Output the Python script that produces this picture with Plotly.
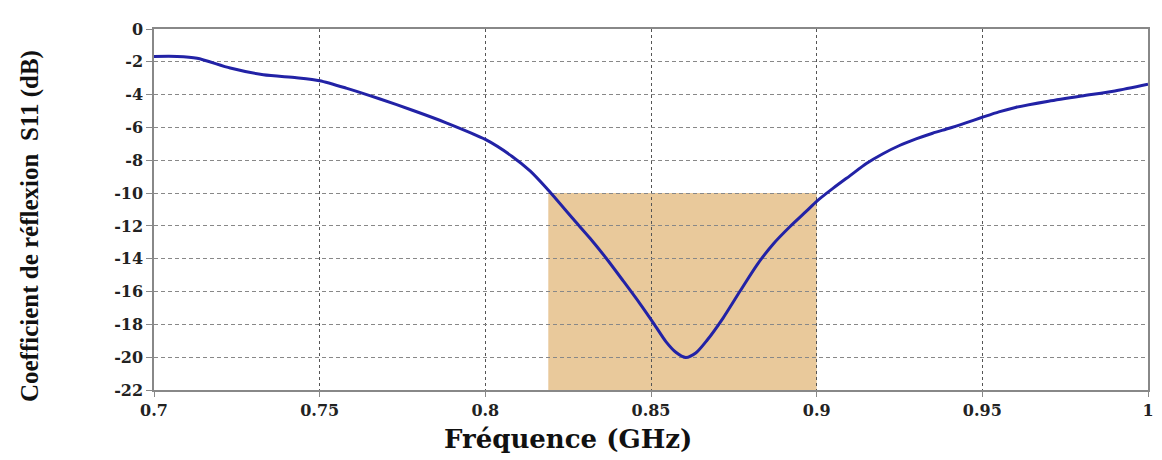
import plotly.graph_objects as go

# Data
freq_ghz = [0.700, 0.707, 0.713, 0.723, 0.733, 0.743, 0.750, 0.758, 0.768, 0.778,
            0.788, 0.800, 0.808, 0.8135, 0.8185, 0.8266, 0.8316, 0.8366, 0.8416, 0.8467,
            0.8510, 0.8545, 0.8575, 0.8605, 0.8635, 0.8668, 0.8718, 0.8768, 0.8819, 0.8869,
            0.8919, 0.8969, 0.900, 0.905, 0.910, 0.915, 0.920, 0.925, 0.930, 0.935,
            0.940, 0.945, 0.950, 0.955, 0.960, 0.970, 0.980, 0.990, 1.000]
s11_db = [-1.67, -1.67, -1.78, -2.38, -2.79, -2.97, -3.15, -3.60, -4.25, -4.95,
          -5.70, -6.73, -7.75, -8.65, -9.71, -11.6, -12.75, -14.0, -15.35, -16.75,
          -18.0, -19.05, -19.7, -20.02, -19.75, -19.0, -17.6, -16.0, -14.4, -13.1,
          -12.05, -11.1, -10.5, -9.7, -8.95, -8.2, -7.6, -7.1, -6.7, -6.35,
          -6.05, -5.72, -5.38, -5.05, -4.78, -4.40, -4.08, -3.78, -3.37]

band_start = 0.819
band_end = 0.9
threshold_db = -10
y_floor = -22

x_tick_vals = [0.7, 0.75, 0.8, 0.85, 0.9, 0.95, 1.0]
x_tick_text = ["0.7", "0.75", "0.8", "0.85", "0.9", "0.95", "1"]
y_tick_vals = [0, -2, -4, -6, -8, -10, -12, -14, -16, -18, -20, -22]
y_tick_text = ["0", "-2", "-4", "-6", "-8", "-10", "-12", "-14", "-16", "-18", "-20", "-22"]

fig = go.Figure()
fig.add_trace(go.Scatter(
    x=freq_ghz, y=s11_db, mode="lines",
    line=dict(color="#2222a6", width=3, shape="spline", smoothing=0.7),
    hoverinfo="x+y", showlegend=False,
))

fig.add_shape(type="rect", xref="x", yref="y",
              x0=band_start, x1=band_end, y0=y_floor, y1=threshold_db,
              fillcolor="rgb(233,201,155)", line=dict(width=0), layer="below")

tick_font = dict(family="DejaVu Serif", size=16, color="#222", weight="bold")

fig.update_xaxes(
    range=[0.7, 1.0], tickvals=x_tick_vals, ticktext=x_tick_text,
    showgrid=True, gridcolor="#555", griddash="dot", gridwidth=1,
    showline=True, linecolor="#888", linewidth=1.5, mirror=True,
    ticks="outside", ticklen=5, tickcolor="#888",
    tickfont=tick_font, zeroline=False,
)
fig.update_yaxes(
    range=[y_floor, 0], tickvals=y_tick_vals, ticktext=y_tick_text,
    showgrid=True, gridcolor="#888", griddash="4px,3px", gridwidth=1.2,
    showline=True, linecolor="#888", linewidth=1.5, mirror=True,
    ticks="outside", ticklen=6, tickcolor="#888",
    tickfont=tick_font, zeroline=False,
)

fig.add_annotation(
    text="Fréquence (GHz)", xref="paper", yref="paper",
    x=(568 - 154) / 994, y=-0.135, yanchor="middle", xanchor="center",
    showarrow=False,
    font=dict(family="DejaVu Serif", size=26, color="#111", weight="bold"),
)
fig.add_annotation(
    text="Coefficient de réflexion  S11 (dB)", xref="paper", yref="paper",
    x=(30 - 154) / 994, y=(390 - 222) / 370, xanchor="center", yanchor="middle",
    textangle=-90, showarrow=False,
    font=dict(family="Liberation Serif", size=25, color="#111", weight="bold"),
)

fig.update_layout(
    width=1162, height=460,
    margin=dict(l=146, r=22, t=12, b=78),
    plot_bgcolor="white", paper_bgcolor="white",
)

fig.write_html("out.html")
